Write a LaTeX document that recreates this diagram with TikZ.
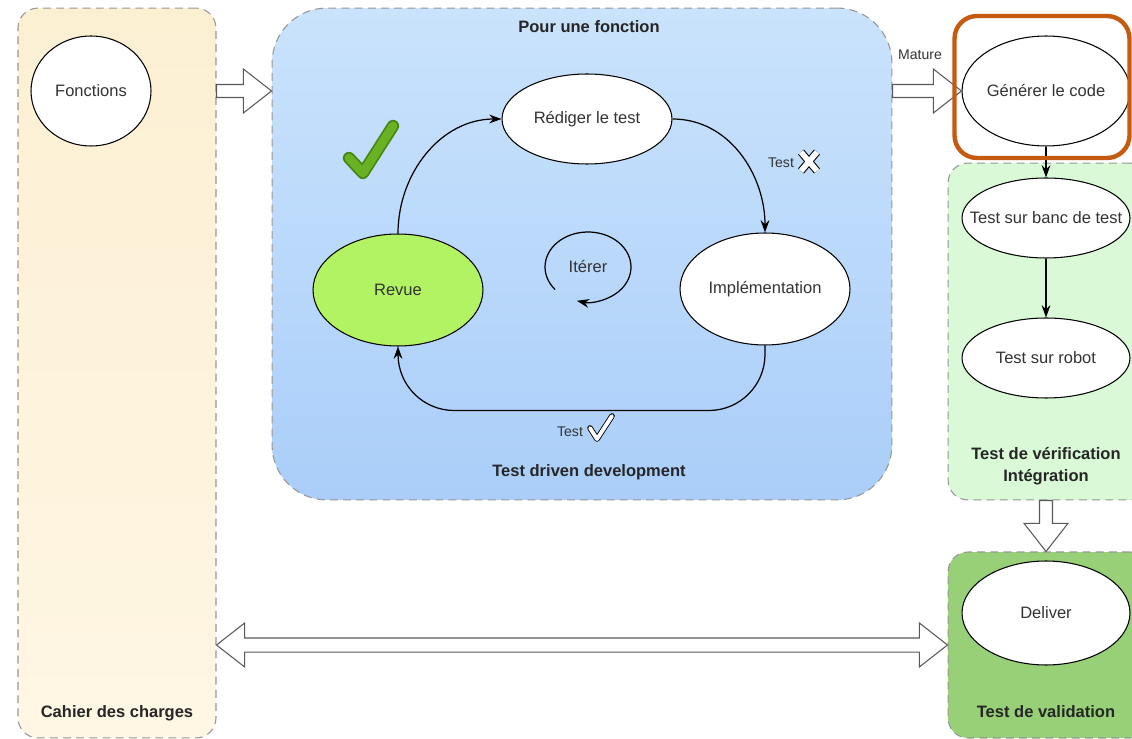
\documentclass[tikz,border=0pt]{standalone}
\usepackage{fontspec}
\setmainfont{Liberation Sans}
\usetikzlibrary{arrows.meta,shapes.geometric,calc}

\definecolor{txtgrey}{RGB}{51,51,51}
\definecolor{lanegrey}{RGB}{150,150,150}
\definecolor{creamtop}{RGB}{252,240,211}
\definecolor{creambot}{RGB}{255,246,228}
\definecolor{skytop}{RGB}{202,227,252}
\definecolor{skybot}{RGB}{170,206,249}
\definecolor{mintfill}{RGB}{218,249,214}
\definecolor{leaffill}{RGB}{151,208,119}
\definecolor{revuefill}{RGB}{178,243,100}
\definecolor{rustline}{RGB}{197,90,17}
\definecolor{tickdark}{RGB}{70,135,20}
\definecolor{tickgreen}{RGB}{104,178,36}

\newcommand\diagfont{\fontsize{9.4}{12.5}\selectfont}
\newcommand\notefont{\fontsize{8}{10}\selectfont}

\newcommand\rightblock[2]{%
  \draw[blockarrow] let \p1=(#1), \p2=(#2) in
    (\x1,\y1+3.7pt) -- (\x2-16pt,\y1+3.7pt) -- (\x2-16pt,\y1+12.5pt) -- (\x2,\y1)
    -- (\x2-16pt,\y1-12.5pt) -- (\x2-16pt,\y1-3.7pt) -- (\x1,\y1-3.7pt) -- cycle;}
\newcommand\downblock[2]{%
  \draw[blockarrow] let \p1=(#1), \p2=(#2) in
    (\x1-3.7pt,\y1) -- (\x1-3.7pt,\y2+16pt) -- (\x1-12.5pt,\y2+16pt) -- (\x1,\y2)
    -- (\x1+12.5pt,\y2+16pt) -- (\x1+3.7pt,\y2+16pt) -- (\x1+3.7pt,\y1) -- cycle;}
\newcommand\bothblock[2]{%
  \draw[blockarrow] let \p1=(#1), \p2=(#2) in
    (\x1,\y1) -- (\x1+16pt,\y1+12.5pt) -- (\x1+16pt,\y1+4pt) -- (\x2-16pt,\y1+4pt)
    -- (\x2-16pt,\y1+12.5pt) -- (\x2,\y1) -- (\x2-16pt,\y1-12.5pt) -- (\x2-16pt,\y1-4pt)
    -- (\x1+16pt,\y1-4pt) -- (\x1+16pt,\y1-12.5pt) -- cycle;}

\begin{document}
\begin{tikzpicture}[x=0.02cm,y=-0.02cm,
    lane/.style={draw=lanegrey,dash pattern=on 4.5pt off 3pt,line width=0.6pt,rounded corners=0.4cm,inner sep=0pt},
    lanetitle/.style={font=\diagfont\bfseries,text=black!85,align=center},
    task/.style={ellipse,draw,line width=0.6pt,fill=white,inner sep=0pt,text=txtgrey,font=\diagfont},
    note/.style={font=\notefont,text=txtgrey,inner sep=1pt},
    flow/.style={-{Stealth[length=7pt,width=5pt]},line width=0.7pt},
    blockarrow/.style={draw=black!65,fill=white,line width=0.6pt},
    outlined/.style={double=white,double distance=2.2pt,line width=0.5pt}]
  \useasboundingbox (0,0) rectangle (1132,739);
  \clip (0,0) rectangle (1132,739);

  \node[lane,top color=creamtop,bottom color=creambot,minimum width=3.96cm,minimum height=14.6cm] (cahier) at (117,373) {};
  \node[lane,rounded corners=1.1cm,top color=skytop,bottom color=skybot,minimum width=12.4cm,minimum height=9.84cm] (tdd) at (582,254) {};
  \node[lane,fill=mintfill,minimum width=4.04cm,minimum height=6.74cm] (verif) at (1049,331.5) {};
  \node[lane,fill=leaffill,minimum width=4.04cm,minimum height=3.72cm] (valid) at (1049,645) {};

  \node[lanetitle] (cahiertitle) at (117,713) {Cahier des charges};
  \node[lanetitle] (tddtop) at (589,27) {Pour une fonction};
  \node[lanetitle] (tddtitle) at (589,472) {Test driven development};
  \node[lanetitle] (veriftitle) at (1046,466) {Test de vérification\\Intégration};
  \node[lanetitle] (validtitle) at (1046,712) {Test de validation};

  \node[task,minimum width=2.4cm,minimum height=2.2cm] (fonctions) at (91,91) {Fonctions};
  \node[task,minimum width=3.4cm,minimum height=1.8cm] (rediger) at (587,119) {\makebox[0pt]{Rédiger le test}};
  \node[task,minimum width=3.4cm,minimum height=2.24cm] (impl) at (765,289) {\makebox[0pt]{Implémentation}};
  \node[task,fill=revuefill,minimum width=3.4cm,minimum height=2.24cm] (revue) at (398,290) {Revue};
  \node[task,minimum width=3.36cm,minimum height=2.2cm] (gen) at (1046,91) {\makebox[0pt]{Générer le code}};
  \node[task,minimum width=3.36cm,minimum height=1.6cm] (banc) at (1046,218) {\makebox[0pt]{Test sur banc de test}};
  \node[task,minimum width=3.36cm,minimum height=1.6cm] (robot) at (1046,358) {\makebox[0pt]{Test sur robot}};
  \node[task,minimum width=3.36cm,minimum height=2.08cm] (deliver) at (1046,613) {Deliver};

  \coordinate (bothway) at (582,645);
  \rightblock{cahier.east |- fonctions}{tdd.west |- fonctions}
  \rightblock{tdd.east |- gen}{gen.west}
  \downblock{verif.south -| deliver}{valid.north -| deliver}
  \bothblock{cahier.east |- bothway}{valid.west |- bothway}
  \node[note] (mature) at (920,55) {Mature};

  \draw[flow] (rediger.east) to[out=0,in=90] (impl.north);
  \draw[flow,rounded corners=32pt] (impl.south) |- ($(revue.south)+(0,64)$) -- (revue.south);
  \draw[flow] (revue.north) to[out=90,in=180] (rediger.west);
  \draw[flow] (gen.south) -- (banc.north);
  \draw[flow] (banc.south) -- (robot.north);

  \node[font=\diagfont,text=txtgrey] (iter) at (588,267) {Itérer};
  \draw[flow] ([shift={(220:0.86cm and 0.70cm)}]iter.center) arc[start angle=220,end angle=-105,x radius=0.86cm,y radius=0.70cm];

  \node[note] (failtest) at (781,163) {Test};
  \draw[outlined,double distance=3.2pt,line width=0.6pt] (801,152) -- (817,171) (817,152) -- (801,171);
  \node[note] (passtest) at (570,432) {Test};
  \draw[outlined,line cap=round,line join=round] (590,428) -- (597,439) -- (612,416);

  \draw[tickdark,line width=7pt,line cap=round,line join=round] (349,158) -- (363,173) -- (393,126);
  \draw[tickgreen,line width=5pt,line cap=round,line join=round] (349,158) -- (363,173) -- (393,126);

  \node[draw=rustline,line width=2.5pt,rounded corners=0.45cm,minimum width=3.5cm,minimum height=2.84cm,inner sep=0pt] (focus) at (1042,87) {};
\end{tikzpicture}
\end{document}
